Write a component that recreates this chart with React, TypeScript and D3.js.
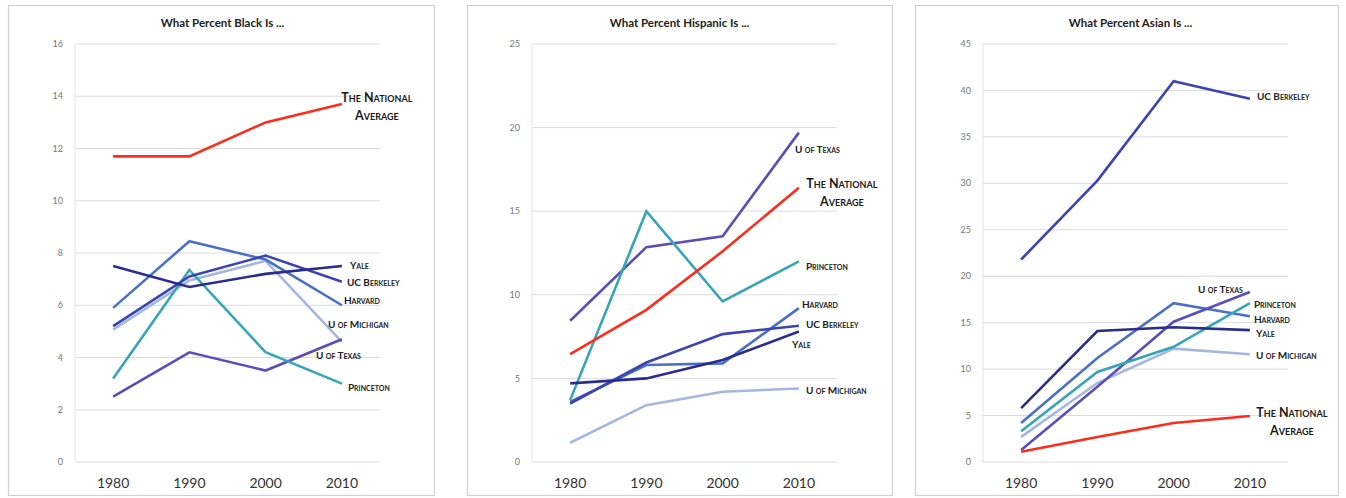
import React from "react";
import * as d3 from "d3";

// ---------- DATA ----------
const years = ["1980", "1990", "2000", "2010"];

const blackTicks = [0, 2, 4, 6, 8, 10, 12, 14, 16];
const blackNational = [11.7, 11.7, 13.0, 13.7];
const blackYale = [7.5, 6.7, 7.2, 7.5];
const blackBerkeley = [5.2, 7.1, 7.9, 6.9];
const blackHarvard = [5.9, 8.45, 7.75, 6.0];
const blackMichigan = [5.07, 6.95, 7.7, 4.6];
const blackTexas = [2.5, 4.2, 3.5, 4.7];
const blackPrinceton = [3.2, 7.35, 4.2, 3.0];

const hispTicks = [0, 5, 10, 15, 20, 25];
const hispNational = [6.45, 9.1, 12.6, 16.4];
const hispTexas = [8.45, 12.85, 13.5, 19.7];
const hispPrinceton = [3.7, 15.0, 9.6, 12.0];
const hispHarvard = [3.6, 5.8, 5.9, 9.2];
const hispBerkeley = [3.5, 5.95, 7.65, 8.15];
const hispYale = [4.7, 5.0, 6.1, 7.8];
const hispMichigan = [1.15, 3.4, 4.2, 4.4];

const asianTicks = [0, 5, 10, 15, 20, 25, 30, 35, 40, 45];
const asianBerkeley = [21.8, 30.3, 41.0, 39.1];
const asianTexas = [1.3, 8.1, 15.1, 18.3];
const asianHarvard = [4.2, 11.2, 17.1, 15.7];
const asianPrinceton = [3.3, 9.7, 12.4, 17.1];
const asianYale = [5.8, 14.1, 14.5, 14.2];
const asianMichigan = [2.7, 8.5, 12.2, 11.6];
const asianNational = [1.1, 2.7, 4.2, 4.95];

// ---------- STYLE ----------
const COLORS: Record<string, string> = {
  national: "#ff2b1c",
  yale: "#2c2c8e",
  berkeley: "#3a45b2",
  harvard: "#4a70c8",
  michigan: "#a4b6e2",
  texas: "#5a4fba",
  princeton: "#35a5b8",
};

type Series = { key: string; name: string[]; values: number[]; dx: number; dy: number; big?: boolean };
type Panel = {
  title: string;
  frame: [number, number];
  plot: [number, number];
  max: number;
  ticks: number[];
  series: Series[];
};

const panels: Panel[] = [
  {
    title: "What Percent Black Is ...",
    frame: [8, 434],
    plot: [75, 380],
    max: 16,
    ticks: blackTicks,
    series: [
      { key: "michigan", name: ["U of Michigan"], values: blackMichigan, dx: -14, dy: -17 },
      { key: "harvard", name: ["Harvard"], values: blackHarvard, dx: 2, dy: -5 },
      { key: "texas", name: ["U of Texas"], values: blackTexas, dx: -26, dy: 16 },
      { key: "princeton", name: ["Princeton"], values: blackPrinceton, dx: 6, dy: 4 },
      { key: "berkeley", name: ["UC Berkeley"], values: blackBerkeley, dx: 5, dy: 1 },
      { key: "yale", name: ["Yale"], values: blackYale, dx: 8, dy: -1 },
      { key: "national", name: ["The National", "Average"], values: blackNational, dx: -4, dy: -6, big: true },
    ],
  },
  {
    title: "What Percent Hispanic Is ...",
    frame: [467, 892],
    plot: [532, 837],
    max: 25,
    ticks: hispTicks,
    series: [
      { key: "michigan", name: ["U of Michigan"], values: hispMichigan, dx: 7, dy: 2 },
      { key: "harvard", name: ["Harvard"], values: hispHarvard, dx: 3, dy: -4 },
      { key: "texas", name: ["U of Texas"], values: hispTexas, dx: -4, dy: 17 },
      { key: "princeton", name: ["Princeton"], values: hispPrinceton, dx: 7, dy: 5 },
      { key: "berkeley", name: ["UC Berkeley"], values: hispBerkeley, dx: 7, dy: -1 },
      { key: "yale", name: ["Yale"], values: hispYale, dx: -7, dy: 13 },
      { key: "national", name: ["The National", "Average"], values: hispNational, dx: 4, dy: -4, big: true },
    ],
  },
  {
    title: "What Percent Asian Is ...",
    frame: [915, 1338],
    plot: [983, 1288],
    max: 45,
    ticks: asianTicks,
    series: [
      { key: "michigan", name: ["U of Michigan"], values: asianMichigan, dx: 6, dy: 1 },
      { key: "harvard", name: ["Harvard"], values: asianHarvard, dx: 4, dy: 3 },
      { key: "texas", name: ["U of Texas"], values: asianTexas, dx: -52, dy: -3 },
      { key: "princeton", name: ["Princeton"], values: asianPrinceton, dx: 4, dy: 1 },
      { key: "yale", name: ["Yale"], values: asianYale, dx: 6, dy: 3 },
      { key: "berkeley", name: ["UC Berkeley"], values: asianBerkeley, dx: 7, dy: -2 },
      { key: "national", name: ["The National", "Average"], values: asianNational, dx: 3, dy: -3, big: true },
    ],
  },
];

const W = 1346;
const H = 498;
const TOP = 44;
const BOTTOM = 462;
const FONT = "Lato, 'Open Sans', sans-serif";

function PanelView({ p }: { p: Panel }) {
  const x = d3.scalePoint<string>().domain(years).range(p.plot).padding(0.5);
  const y = d3.scaleLinear().domain([0, p.max]).range([BOTTOM, TOP]);
  const line = d3
    .line<number>()
    .x((_, i) => x(years[i]) as number)
    .y((d) => y(d));
  return (
    <g>
      <rect x={p.frame[0] + 0.5} y={5.5} width={p.frame[1] - p.frame[0]} height={490} fill="#fff" stroke="#cfcfcf" strokeWidth={1.2} />
      <text x={(p.plot[0] + p.plot[1]) / 2 - 5} y={27} textAnchor="middle" fontFamily={FONT} fontWeight="bold" fontSize={11.5} fill="#222">
        {p.title}
      </text>
      {p.ticks.map((t) => (
        <g key={t}>
          <line x1={p.plot[0]} x2={p.plot[1]} y1={y(t)} y2={y(t)} stroke="#dcdcdc" strokeWidth={1} />
          <text x={p.plot[0] - 12} y={y(t)} dy="0.35em" textAnchor="end" fontFamily={FONT} fontSize={9} fill="#777">
            {t}
          </text>
        </g>
      ))}
      <line x1={p.plot[0]} x2={p.plot[0]} y1={TOP} y2={BOTTOM} stroke="#e4e4e4" strokeWidth={1} />
      {years.map((yr) => (
        <text key={yr} x={x(yr) as number} y={488} textAnchor="middle" fontFamily={FONT} fontSize={14} fill="#333">
          {yr}
        </text>
      ))}
      {p.series.map((s) => (
        <path key={s.key} d={line(s.values) || ""} fill="none" stroke={COLORS[s.key]} strokeWidth={2.6} strokeLinejoin="miter" />
      ))}
      {p.series.map((s) => {
        const ex = (x(years[years.length - 1]) as number) + s.dx;
        const ey = y(s.values[s.values.length - 1]) + s.dy;
        if (s.big) {
          return (
            <text key={s.key + "l"} fontFamily={FONT} fontWeight="bold" fontSize={12.5} fill="#1a1a1a" style={{ fontVariant: "small-caps" }} textAnchor="middle">
              <tspan x={ex + 39} y={ey} dy="0.35em">{s.name[0]}</tspan>
              <tspan x={ex + 39} y={ey + 18} dy="0.35em">{s.name[1]}</tspan>
            </text>
          );
        }
        return (
          <text key={s.key + "l"} x={ex} y={ey} dy="0.35em" fontFamily={FONT} fontWeight="bold" fontSize={10} fill="#222" style={{ fontVariant: "small-caps" }}>
            {s.name[0]}
          </text>
        );
      })}
    </g>
  );
}

export default function App() {
  return (
    <svg width={W} height={H} style={{ position: "absolute", left: 0, top: 0, background: "#fff" }}>
      <rect width={W} height={H} fill="#fff" />
      {panels.map((p) => (
        <PanelView key={p.title} p={p} />
      ))}
    </svg>
  );
}
